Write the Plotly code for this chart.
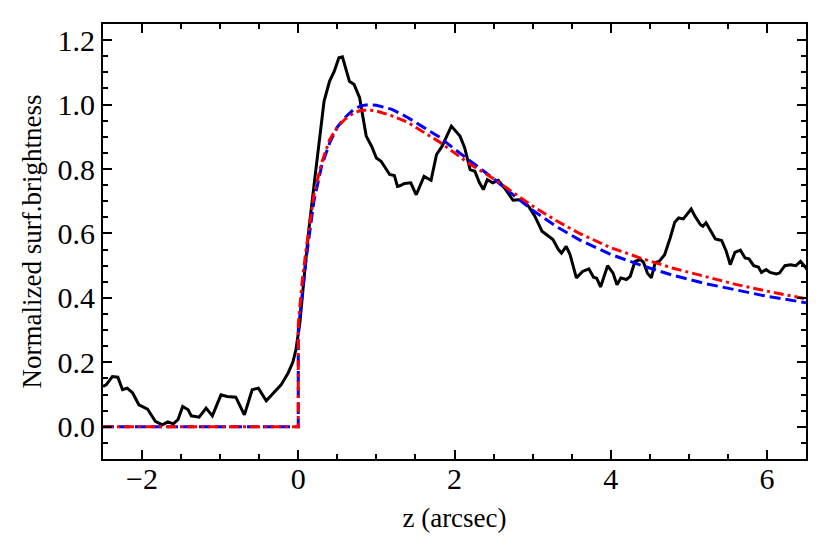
import plotly.graph_objects as go

# Observed (black) profile
obs_x = [-2.50, -2.46, -2.38, -2.31, -2.25, -2.19, -2.12, -2.04, -1.93, -1.83, -1.74, -1.67, -1.60,
         -1.54, -1.48, -1.41, -1.37, -1.27, -1.18, -1.10, -0.99, -0.91, -0.80, -0.69, -0.59,
         -0.51, -0.41, -0.32, -0.22, -0.13, -0.07, -0.03, 0.02, 0.08, 0.14, 0.21, 0.27, 0.33,
         0.40, 0.46, 0.52, 0.565, 0.655, 0.715, 0.785, 0.87, 0.94, 1.00, 1.06, 1.17, 1.23,
         1.27, 1.30, 1.36, 1.44, 1.51, 1.61, 1.70, 1.77, 1.84, 1.96, 2.07, 2.13, 2.20, 2.26,
         2.32, 2.37, 2.42, 2.49, 2.56, 2.64, 2.75, 2.86, 2.95, 3.03, 3.12, 3.18, 3.26, 3.33,
         3.37, 3.43, 3.48, 3.56, 3.64, 3.72, 3.78, 3.82, 3.87, 3.96, 4.03, 4.08, 4.13, 4.20,
         4.25, 4.31, 4.38, 4.42, 4.47, 4.52, 4.57, 4.62, 4.69, 4.76, 4.82, 4.87, 4.93, 5.03,
         5.08, 5.15, 5.18, 5.22, 5.28, 5.34, 5.42, 5.48, 5.53, 5.59, 5.66, 5.72, 5.77, 5.83,
         5.89, 5.93, 5.99, 6.04, 6.12, 6.16, 6.23, 6.30, 6.37, 6.43, 6.49, 6.53]
obs_y = [0.125, 0.130, 0.156, 0.154, 0.115, 0.120, 0.105, 0.068, 0.055, 0.017, 0.006, 0.015, 0.009,
         0.022, 0.063, 0.053, 0.034, 0.030, 0.058, 0.034, 0.099, 0.094, 0.092, 0.037, 0.115,
         0.120, 0.081, 0.105, 0.130, 0.167, 0.200, 0.239, 0.322, 0.477, 0.622, 0.767, 0.891, 1.010,
         1.072, 1.103, 1.145, 1.148, 1.072, 1.062, 1.021, 0.902, 0.870, 0.834, 0.824, 0.783, 0.780,
         0.746, 0.748, 0.755, 0.757, 0.720, 0.777, 0.765, 0.845, 0.870, 0.933, 0.902, 0.866, 0.798, 0.793,
         0.757, 0.736, 0.767, 0.757, 0.765, 0.741, 0.703, 0.705, 0.684, 0.653, 0.607, 0.596, 0.581, 0.550,
         0.539, 0.560, 0.534, 0.462, 0.482, 0.490, 0.464, 0.461, 0.434, 0.500, 0.477, 0.441, 0.462, 0.457,
         0.467, 0.513, 0.519, 0.510, 0.477, 0.462, 0.510, 0.513, 0.534, 0.585, 0.635, 0.648, 0.645, 0.676,
         0.653, 0.627, 0.622, 0.633, 0.607, 0.583, 0.578, 0.544, 0.503, 0.541, 0.548, 0.524, 0.521, 0.500,
         0.496, 0.479, 0.488, 0.479, 0.474, 0.477, 0.500, 0.503, 0.500, 0.513, 0.496, 0.482]

# Model curves
model_x = [-2.5, 0.0, 0.0, 0.05, 0.1, 0.15, 0.2, 0.3, 0.4, 0.5, 0.6, 0.7, 0.8, 0.9, 1.0, 1.2,
           1.4, 1.6, 1.8, 2.0, 2.2, 2.5, 2.8, 3.0, 3.3, 3.6, 4.0, 4.4, 4.8, 5.2, 5.6, 6.0, 6.5]
blue_y = [0.0, 0.0, 0.30, 0.42, 0.52, 0.61, 0.70, 0.81, 0.88, 0.93, 0.96, 0.983, 0.996, 1.0, 0.998,
          0.985, 0.96, 0.93, 0.90, 0.862, 0.825, 0.77, 0.71, 0.672, 0.622, 0.58, 0.535, 0.50,
          0.47, 0.445, 0.425, 0.405, 0.385]
red_y = [0.0, 0.0, 0.32, 0.45, 0.55, 0.64, 0.72, 0.82, 0.89, 0.93, 0.955, 0.972, 0.982, 0.983, 0.98,
         0.965, 0.945, 0.915, 0.885, 0.85, 0.815, 0.77, 0.72, 0.685, 0.64, 0.60, 0.556, 0.522,
         0.492, 0.466, 0.442, 0.421, 0.397]

fig = go.Figure()
fig.add_trace(go.Scatter(x=obs_x, y=obs_y, mode="lines",
                         line=dict(color="black", width=3), showlegend=False))
fig.add_trace(go.Scatter(x=model_x, y=blue_y, mode="lines",
                         line=dict(color="#0000ff", width=3, dash="11px,5px"), showlegend=False))
fig.add_trace(go.Scatter(x=model_x, y=red_y, mode="lines",
                         line=dict(color="#ff0000", width=3, dash="10px,4px,3px,4px"), showlegend=False))

serif = "Liberation Serif, Times New Roman, serif"
tick_font = dict(family=serif, size=30, color="black")
title_font = dict(family=serif, size=27, color="black")
fig.update_layout(
    width=830, height=551,
    margin=dict(l=103, r=24, t=24, b=92),
    paper_bgcolor="white", plot_bgcolor="white",
    font=tick_font,
)
fig.update_xaxes(
    range=[-2.5, 6.5], tickmode="linear", tick0=0, dtick=2,
    ticks="inside", ticklen=9, tickwidth=2, tickcolor="black",
    minor=dict(tickmode="linear", tick0=0, dtick=0.5, ticks="inside", ticklen=5,
               tickwidth=1.5, tickcolor="black"),
    showline=True, linewidth=2, linecolor="black", mirror="ticks",
    showgrid=False, zeroline=False, automargin=False,
    ticklabelstandoff=-8,
    title=dict(text="z (arcsec)", standoff=14, font=title_font),
    tickfont=tick_font,
)
fig.update_yaxes(
    range=[-0.1, 1.25], tickmode="linear", tick0=0, dtick=0.2, tickformat=".1f",
    ticks="inside", ticklen=9, tickwidth=2, tickcolor="black",
    minor=dict(tickmode="linear", tick0=0, dtick=0.05, ticks="inside", ticklen=5,
               tickwidth=1.5, tickcolor="black"),
    showline=True, linewidth=2, linecolor="black", mirror="ticks",
    showgrid=False, zeroline=False, automargin=False,
    title=dict(text="Normalized surf.brightness", standoff=8, font=title_font),
    tickfont=tick_font,
)
fig.write_html("out.html", config={"displayModeBar": False},
               post_script="document.body.style.margin='0';")
